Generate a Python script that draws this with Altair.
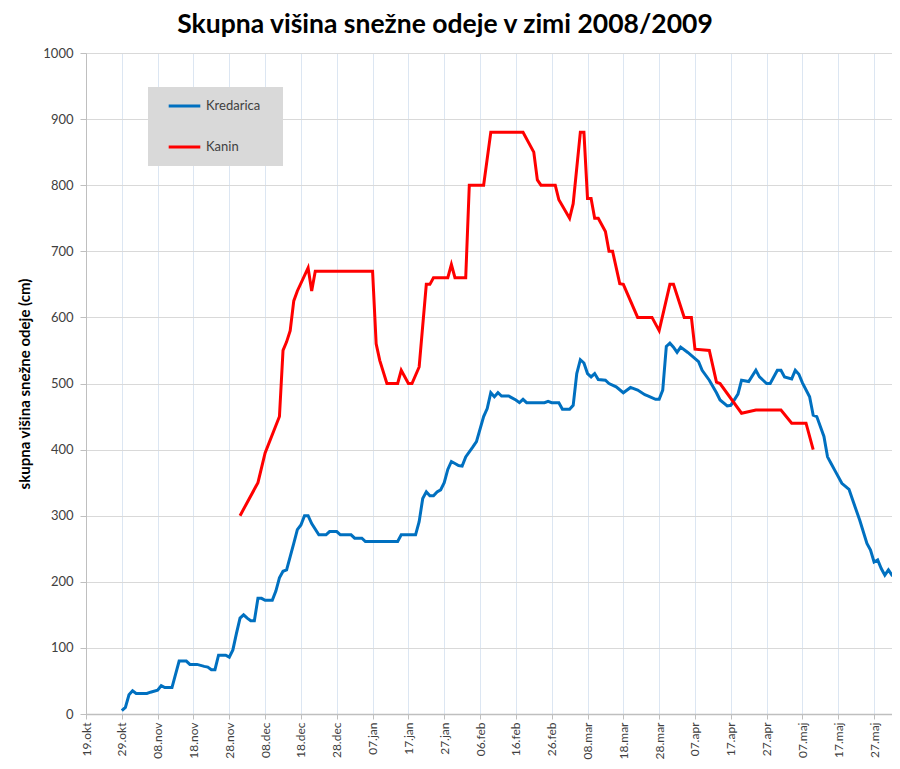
import altair as alt
import pandas as pd

# ---------------- data ----------------
kredarica_dates = [
    "2008-10-29", "2008-10-30", "2008-10-31", "2008-11-01", "2008-11-02", "2008-11-05",
    "2008-11-06", "2008-11-08", "2008-11-09", "2008-11-10", "2008-11-12", "2008-11-14",
    "2008-11-16", "2008-11-17", "2008-11-19", "2008-11-21", "2008-11-22", "2008-11-23",
    "2008-11-24", "2008-11-25", "2008-11-27", "2008-11-28", "2008-11-29", "2008-11-30",
    "2008-12-01", "2008-12-02", "2008-12-03", "2008-12-04", "2008-12-05", "2008-12-06",
    "2008-12-07", "2008-12-08", "2008-12-10", "2008-12-11", "2008-12-12", "2008-12-13",
    "2008-12-14", "2008-12-15", "2008-12-16", "2008-12-17", "2008-12-18", "2008-12-19",
    "2008-12-20", "2008-12-21", "2008-12-23", "2008-12-25", "2008-12-26", "2008-12-28",
    "2008-12-29", "2009-01-01", "2009-01-02", "2009-01-04", "2009-01-05", "2009-01-14",
    "2009-01-15", "2009-01-19", "2009-01-20", "2009-01-21", "2009-01-22", "2009-01-23",
    "2009-01-24", "2009-01-25", "2009-01-26", "2009-01-27", "2009-01-28", "2009-01-29",
    "2009-01-30", "2009-01-31", "2009-02-01", "2009-02-02", "2009-02-04", "2009-02-05",
    "2009-02-07", "2009-02-08", "2009-02-09", "2009-02-10", "2009-02-11", "2009-02-12",
    "2009-02-14", "2009-02-16", "2009-02-17", "2009-02-18", "2009-02-19", "2009-02-24",
    "2009-02-25", "2009-02-26", "2009-02-28", "2009-03-01", "2009-03-03", "2009-03-04",
    "2009-03-05", "2009-03-06", "2009-03-07", "2009-03-08", "2009-03-09", "2009-03-10",
    "2009-03-11", "2009-03-13", "2009-03-14", "2009-03-16", "2009-03-18", "2009-03-20",
    "2009-03-22", "2009-03-24", "2009-03-25", "2009-03-27", "2009-03-28", "2009-03-29",
    "2009-03-30", "2009-03-31", "2009-04-01", "2009-04-02", "2009-04-03", "2009-04-05",
    "2009-04-08", "2009-04-09", "2009-04-11", "2009-04-13", "2009-04-14", "2009-04-16",
    "2009-04-17", "2009-04-19", "2009-04-20", "2009-04-22", "2009-04-24", "2009-04-25",
    "2009-04-27", "2009-04-28", "2009-04-30", "2009-05-01", "2009-05-02", "2009-05-04",
    "2009-05-05", "2009-05-06", "2009-05-07", "2009-05-09", "2009-05-10", "2009-05-11",
    "2009-05-13", "2009-05-14", "2009-05-15", "2009-05-16", "2009-05-18", "2009-05-20",
    "2009-05-21", "2009-05-23", "2009-05-25", "2009-05-26", "2009-05-27", "2009-05-28",
    "2009-05-29", "2009-05-30", "2009-05-31", "2009-06-01", "2009-06-02",
]
kredarica_values = [
    5, 10, 29, 35, 31, 31,
    33, 36, 43, 40, 40, 80,
    80, 75, 75, 72, 71, 67,
    67, 89, 89, 86, 97, 122,
    145, 150, 145, 141, 141, 175,
    175, 172, 172, 186, 206, 216,
    218, 238, 258, 279, 286, 300,
    300, 288, 271, 271, 276, 276,
    271, 271, 266, 266, 261, 261,
    271, 271, 291, 326, 336, 330,
    330, 336, 339, 350, 370, 382,
    379, 376, 375, 389, 404, 412,
    450, 462, 486, 480, 486, 481,
    481, 475, 471, 476, 471, 471,
    473, 471, 471, 461, 461, 467,
    515, 536, 531, 515, 510, 515,
    506, 505, 500, 495, 486, 494,
    490, 483, 481, 476, 476, 490,
    556, 561, 555, 547, 555, 547,
    533, 520, 505, 486, 475, 466,
    467, 484, 505, 503, 520, 510,
    500, 500, 520, 520, 510, 507,
    520, 514, 501, 480, 452, 450,
    420, 389, 379, 369, 349, 340,
    324, 293, 258, 248, 230, 233,
    220, 210, 218, 210, 210,
]

kanin_dates = [
    "2008-12-01", "2008-12-06", "2008-12-08", "2008-12-12", "2008-12-13", "2008-12-14",
    "2008-12-15", "2008-12-16", "2008-12-17", "2008-12-20", "2008-12-21", "2008-12-22",
    "2009-01-07", "2009-01-08", "2009-01-09", "2009-01-11", "2009-01-14", "2009-01-15",
    "2009-01-17", "2009-01-18", "2009-01-20", "2009-01-22", "2009-01-23", "2009-01-24",
    "2009-01-28", "2009-01-29", "2009-01-30", "2009-02-02", "2009-02-03", "2009-02-07",
    "2009-02-09", "2009-02-18", "2009-02-21", "2009-02-22", "2009-02-23", "2009-02-27",
    "2009-02-28", "2009-03-03", "2009-03-04", "2009-03-06", "2009-03-07", "2009-03-08",
    "2009-03-09", "2009-03-10", "2009-03-11", "2009-03-13", "2009-03-14", "2009-03-15",
    "2009-03-17", "2009-03-18", "2009-03-22", "2009-03-26", "2009-03-28", "2009-03-31",
    "2009-04-01", "2009-04-04", "2009-04-06", "2009-04-07", "2009-04-11", "2009-04-13",
    "2009-04-14", "2009-04-20", "2009-04-24", "2009-05-01", "2009-05-04", "2009-05-08",
    "2009-05-10",
]
kanin_values = [
    300, 350, 395, 450, 550, 563,
    580, 625, 640, 675, 640, 670,
    670, 560, 535, 500, 500, 520,
    500, 500, 525, 650, 650, 660,
    660, 680, 660, 660, 800, 800,
    880, 880, 850, 808, 800, 800,
    778, 750, 772, 880, 880, 780,
    780, 750, 750, 730, 700, 700,
    651, 650, 600, 600, 580, 650,
    650, 600, 600, 552, 550, 502,
    500, 455, 460, 460, 440, 440,
    400,
]

series_names = ["Kredarica", "Kanin"]
series_colors = ["#0070C0", "#FF0000"]

tick_dates = [
    "2008-10-19", "2008-10-29", "2008-11-08", "2008-11-18", "2008-11-28", "2008-12-08",
    "2008-12-18", "2008-12-28", "2009-01-07", "2009-01-17", "2009-01-27", "2009-02-06",
    "2009-02-16", "2009-02-26", "2009-03-08", "2009-03-18", "2009-03-28", "2009-04-07",
    "2009-04-17", "2009-04-27", "2009-05-07", "2009-05-17", "2009-05-27",
]
tick_labels = [
    "19.okt", "29.okt", "08.nov", "18.nov", "28.nov", "08.dec",
    "18.dec", "28.dec", "07.jan", "17.jan", "27.jan", "06.feb",
    "16.feb", "26.feb", "08.mar", "18.mar", "28.mar", "07.apr",
    "17.apr", "27.apr", "07.maj", "17.maj", "27.maj",
]
x_domain = ["2008-10-19", "2009-06-01"]
y_ticks = [0, 100, 200, 300, 400, 500, 600, 700, 800, 900, 1000]

chart_title = "Skupna višina snežne odeje v zimi 2008/2009"
y_title = "skupna višina snežne odeje (cm)"

# ---------------- build ----------------
def ms(d):
    return int(pd.Timestamp(d, tz="UTC").value // 10**6)

tick_ms = [ms(d) for d in tick_dates]
t0 = tick_ms[0]
step = tick_ms[1] - tick_ms[0]
label_expr = "[" + ",".join("'%s'" % t for t in tick_labels) + \
    "][round((toNumber(datum.value) - %d) / %d)]" % (t0, step)

df = pd.concat([
    pd.DataFrame({"datum": kredarica_dates, "vrednost": kredarica_values, "postaja": "Kredarica"}),
    pd.DataFrame({"datum": kanin_dates, "vrednost": kanin_values, "postaja": "Kanin"}),
], ignore_index=True)

FONT = "Lato"

chart = alt.Chart(df).mark_line(strokeWidth=3, clip=True).encode(
    x=alt.X(
        "datum:T",
        scale=alt.Scale(type="utc", domain=[ms(d) for d in x_domain], nice=False),
        axis=alt.Axis(
            values=tick_ms, labelExpr=label_expr, labelAngle=270,
            labelAlign="right", labelBaseline="middle", title=None,
            labelOverlap=False, labelBound=False, labelFlush=False,
            grid=True, gridColor="#dce6f2", gridWidth=1,
            domainColor="#bfbfbf", domainWidth=1.5, tickColor="#bfbfbf", tickSize=5,
            labelFont=FONT, labelFontSize=12, labelColor="#404040", labelPadding=3,
        ),
    ),
    y=alt.Y(
        "vrednost:Q",
        scale=alt.Scale(domain=[0, 1000], nice=False),
        axis=alt.Axis(
            values=y_ticks, format="d", title=y_title, grid=True, gridColor="#d9d9d9",
            domainColor="#bfbfbf", tickColor="#bfbfbf", tickSize=6,
            labelFont=FONT, labelFontSize=13, labelColor="#404040", labelPadding=7,
            titleFont=FONT, titleFontSize=15, titleFontWeight="bold", titleColor="#000000",
            titlePadding=10,
        ),
    ),
    color=alt.Color(
        "postaja:N",
        sort=series_names,
        scale=alt.Scale(domain=series_names, range=series_colors),
        legend=alt.Legend(
            title="\u2003", titleOrient="right", titlePadding=12, titleFontSize=13,
            orient="none", legendX=62, legendY=34,
            fillColor="#d9d9d9", padding=11, rowPadding=25,
            symbolType="stroke", symbolSize=1000, symbolStrokeWidth=3, clipHeight=16,
            symbolOffset=8, labelOffset=4,
            labelFont=FONT, labelFontSize=13, labelColor="#404040",
        ),
    ),
    order=alt.Order("datum:T"),
).properties(
    width=806,
    height=661,
    title=alt.TitleParams(
        chart_title, font=FONT, fontSize=26.5, fontWeight="bold", color="#000000",
        anchor="middle", dx=-44, offset=9,
    ),
    autosize=alt.AutoSizeParams(type="none"),
    padding={"left": 78, "top": 45, "right": 0, "bottom": 47},
    background="#ffffff",
).configure_view(stroke=None)

chart.save("out.html", embed_options={"renderer": "svg", "actions": False})
